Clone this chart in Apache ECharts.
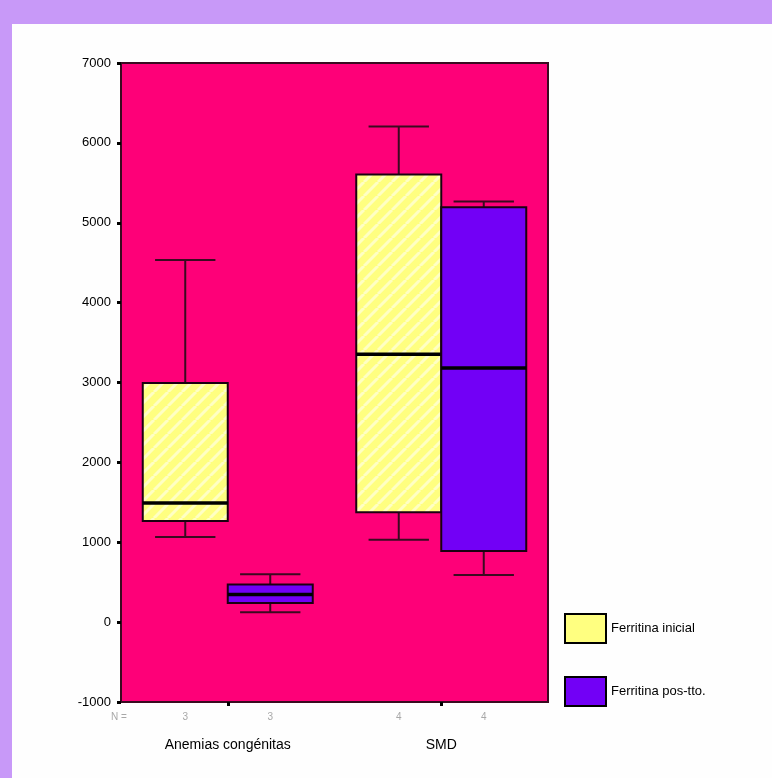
<!DOCTYPE html>
<html>
<head>
<meta charset="utf-8">
<script src="https://cdn.jsdelivr.net/npm/echarts@6/dist/echarts.min.js"></script>
<style>
  html, body { margin: 0; padding: 0; }
  #frame { position: relative; width: 772px; height: 778px; background: #c899f8; overflow: hidden; }
  #panel { position: absolute; left: 12px; top: 24px; width: 760px; height: 754px; background: #fefefe; }
  #chart { position: absolute; left: 0; top: 0; width: 772px; height: 778px; }
</style>
</head>
<body>
<div id="frame"><div id="panel"></div><div id="chart"></div></div>
<script>
// ---- data ----
const categories = ['Anemias congénitas', 'SMD'];
const seriesNames = ['Ferritina inicial', 'Ferritina pos-tto.'];
// [min, Q1, median, Q3, max]
const ferritinaInicial = [
  [1065, 1265, 1490, 2995, 4535],
  [1030, 1375, 3355, 5605, 6205]
];
const ferritinaPos = [
  [125, 238, 345, 470, 600],
  [590, 890, 3180, 5195, 5265]
];
const nInicial = [3, 4];
const nPos = [3, 4];
const yTicks = { min: -1000, max: 7000, interval: 1000 };

// ---- hatch pattern for yellow boxes ----
function makeHatch() {
  const c = document.createElement('canvas');
  c.width = 14; c.height = 14;
  const g = c.getContext('2d');
  g.fillStyle = '#ffff80';
  g.fillRect(0, 0, 14, 14);
  g.strokeStyle = '#ffffc4';
  g.lineWidth = 3;
  g.beginPath();
  for (let k = -14; k <= 28; k += 14) {
    g.moveTo(k, 14); g.lineTo(k + 14, 0);
  }
  g.stroke();
  return c;
}
const hatch = makeHatch();

const FILL = [{ image: hatch, repeat: 'repeat' }, '#7200f6'];
const BOXFRAC = 85 / 213.5;
const FONT = 'Liberation Sans, Arial, sans-serif';

function buildData(stats, ns) {
  return stats.map((s, i) => [i, s[0], s[1], s[2], s[3], s[4], ns[i]]);
}

function makeRender(side) {
  return function (params, api) {
    const cat = api.value(0);
    const band = api.size([1, 0])[0];
    const w = band * BOXFRAC;
    const cx = api.coord([cat, 0])[0] + (side === 0 ? -w / 2 : w / 2);
    const yMin = api.coord([cat, api.value(1)])[1];
    const yQ1 = api.coord([cat, api.value(2)])[1];
    const yMed = api.coord([cat, api.value(3)])[1];
    const yQ3 = api.coord([cat, api.value(4)])[1];
    const yMax = api.coord([cat, api.value(5)])[1];
    const yBase = api.coord([cat, yTicks.min])[1];
    const cap = w * 0.71;
    const wl = { stroke: '#3a0a20', lineWidth: 2 };
    const children = [
      { type: 'line', shape: { x1: cx, y1: yMax, x2: cx, y2: yQ3 }, style: wl },
      { type: 'line', shape: { x1: cx, y1: yQ1, x2: cx, y2: yMin }, style: wl },
      { type: 'line', shape: { x1: cx - cap / 2, y1: yMax, x2: cx + cap / 2, y2: yMax }, style: wl },
      { type: 'line', shape: { x1: cx - cap / 2, y1: yMin, x2: cx + cap / 2, y2: yMin }, style: wl },
      { type: 'rect', shape: { x: cx - w / 2, y: yQ3, width: w, height: yQ1 - yQ3 },
        style: { fill: FILL[side], stroke: '#1a0010', lineWidth: 2 } },
      { type: 'line', shape: { x1: cx - w / 2, y1: yMed, x2: cx + w / 2, y2: yMed },
        style: { stroke: '#000', lineWidth: 3.5 } },
      { type: 'text', x: cx, y: yBase + 15,
        style: { text: String(api.value(6)), fill: '#a8a8a8', fontSize: 10, fontFamily: FONT, align: 'center', verticalAlign: 'middle' } }
    ];
    if (side === 0 && params.dataIndex === 0) {
      const left = api.coord([0, 0])[0] - band / 2;
      children.push({ type: 'text', x: left - 2, y: yBase + 15,
        style: { text: 'N =', fill: '#a8a8a8', fontSize: 10, fontFamily: FONT, align: 'center', verticalAlign: 'middle' } });
    }
    return { type: 'group', children: children };
  };
}

const chart = echarts.init(document.getElementById('chart'), null, { renderer: 'canvas' });
chart.setOption({
  animation: false,
  backgroundColor: 'transparent',
  textStyle: { fontFamily: FONT },
  grid: {
    left: 121, top: 63, right: 224, bottom: 76,
    show: true, backgroundColor: '#fe0078', borderColor: '#3a0a20', borderWidth: 2
  },
  legend: {
    orient: 'vertical', left: 564, top: 613, padding: 0,
    itemWidth: 41, itemHeight: 29, itemGap: 32,
    textStyle: { fontSize: 13, color: '#000' },
    data: [
      { name: seriesNames[0], icon: 'rect', itemStyle: { color: '#ffff80', borderColor: '#000', borderWidth: 2 } },
      { name: seriesNames[1], icon: 'rect', itemStyle: { color: '#7200f6', borderColor: '#000', borderWidth: 2 } }
    ],
    selectedMode: false
  },
  xAxis: {
    type: 'category',
    data: categories,
    axisLine: { show: true, onZero: false, lineStyle: { color: '#3a0a20', width: 2 } },
    axisTick: { show: true, alignWithLabel: true, length: 4, lineStyle: { color: '#000', width: 3 } },
    axisLabel: { margin: 36, fontSize: 14, color: '#000' },
    splitLine: { show: false }
  },
  yAxis: {
    type: 'value',
    min: yTicks.min, max: yTicks.max, interval: yTicks.interval,
    axisLine: { show: true, lineStyle: { color: '#3a0a20', width: 2 } },
    axisTick: { show: true, length: 4, lineStyle: { color: '#000', width: 3 } },
    axisLabel: { margin: 10, fontSize: 13, color: '#000', formatter: function (v) { return String(v); } },
    splitLine: { show: false }
  },
  series: [
    { name: seriesNames[0], type: 'custom', renderItem: makeRender(0),
      itemStyle: { color: '#ffff80' },
      encode: { x: 0, y: [1, 2, 3, 4, 5] }, data: buildData(ferritinaInicial, nInicial) },
    { name: seriesNames[1], type: 'custom', renderItem: makeRender(1),
      itemStyle: { color: '#7200f6' },
      encode: { x: 0, y: [1, 2, 3, 4, 5] }, data: buildData(ferritinaPos, nPos) }
  ]
});
</script>
</body>
</html>
